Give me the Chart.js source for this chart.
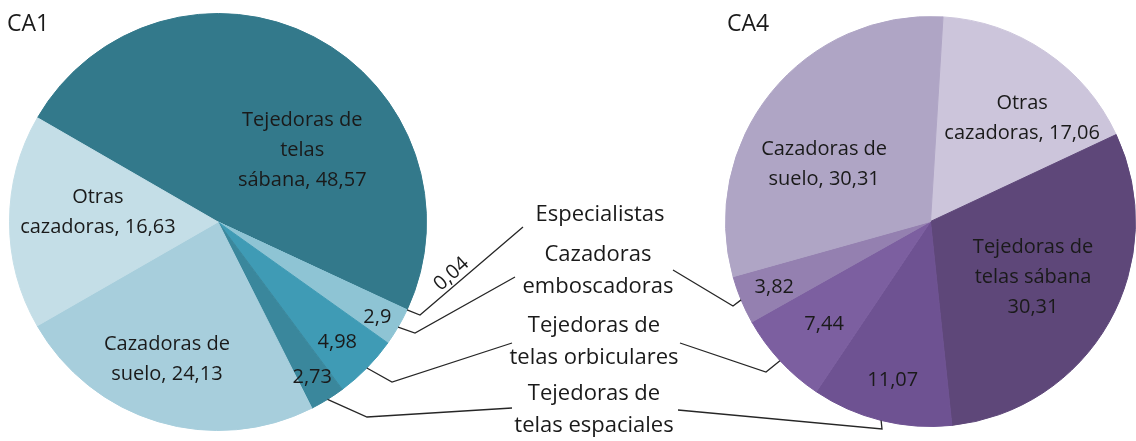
<!DOCTYPE html>
<html>
<head>
<meta charset="utf-8">
<script src="https://cdn.jsdelivr.net/npm/chart.js@4.4.1/dist/chart.umd.min.js"></script>
<style>
  html, body { margin: 0; padding: 0; background: #fff; }
  #wrap { position: relative; width: 1136px; height: 441px; }
  canvas { position: absolute; left: 0; top: 0; }
</style>
</head>
<body>
<div id="wrap">
  <canvas id="ca1" width="1136" height="441"></canvas>
  <canvas id="ca4" width="1136" height="441"></canvas>
</div>
<script>
// DATOS - CA1
var categoriasCA1 = ['Tejedoras de telas sábana', 'Especialistas', 'Cazadoras emboscadoras',
  'Tejedoras de telas orbiculares', 'Tejedoras de telas espaciales', 'Cazadoras de suelo', 'Otras cazadoras'];
var valoresCA1 = [48.57, 0.04, 2.9, 4.98, 2.73, 24.13, 16.63];
var textosCA1 = [['Tejedoras de', 'telas', 'sábana, {v}'], ['{v}'], ['{v}'], ['{v}'], ['{v}'],
  ['Cazadoras de', 'suelo, {v}'], ['Otras', 'cazadoras, {v}']];

// DATOS - CA4
var categoriasCA4 = ['Otras cazadoras', 'Tejedoras de telas sábana', 'Tejedoras de telas espaciales',
  'Tejedoras de telas orbiculares', 'Cazadoras emboscadoras', 'Cazadoras de suelo'];
var valoresCA4 = [17.06, 30.31, 11.07, 7.44, 3.82, 30.31];
var textosCA4 = [['Otras', 'cazadoras, {v}'], ['Tejedoras de', 'telas sábana', '{v}'], ['{v}'], ['{v}'], ['{v}'],
  ['Cazadoras de', 'suelo, {v}']];

// rótulos del centro (nombres de los grupos pequeños)
var rotulosCentro = [['Especialistas'], ['Cazadoras', 'emboscadoras'], ['Tejedoras de', 'telas orbiculares'],
  ['Tejedoras de', 'telas espaciales']];

// colores
var coresCA1 = ['#33798B', '#8EC4D4', '#8EC4D4', '#3F9BB5', '#3A879C', '#A7CEDC', '#C4DEE7'];
var coresCA4 = ['#CCC5DB', '#5E4779', '#6E5292', '#7C5FA0', '#9480B0', '#AFA5C5'];

var FONTE = '"Open Sans", "Noto Sans", sans-serif';

function fmt(v) {
  return String(v).replace('.', ',');
}

// posición de cada rótulo: desplazamiento desde el centro, en fracción del radio
var posCA1 = [
  { dx: 0.404, dy: -0.346 },
  { dx: 1.12, dy: 0.250, rot: -42 },
  { dx: 0.764, dy: 0.457 },
  { dx: 0.572, dy: 0.577 },
  { dx: 0.452, dy: 0.745 },
  { dx: -0.245, dy: 0.659 },
  { dx: -0.576, dy: -0.048 }
];
var posCA4 = [
  { dx: 0.447, dy: -0.505 },
  { dx: 0.500, dy: 0.272 },
  { dx: -0.184, dy: 0.777 },
  { dx: -0.519, dy: 0.500 },
  { dx: -0.762, dy: 0.320 },
  { dx: -0.519, dy: -0.277 }
];

// líneas guía: índice de la porción, codo y final
var guiasCA1 = [
  { i: 1, codo: [420, 315], fim: [523, 227] },
  { i: 2, codo: [415, 333], fim: [515, 277] },
  { i: 3, codo: [392, 382], fim: [512, 343] },
  { i: 4, codo: [367, 417], fim: [512, 408] }
];
var guiasCA4 = [
  { i: 4, codo: [733, 306], fim: [673, 270] },
  { i: 3, codo: [766, 372], fim: [680, 343] },
  { i: 2, codo: [882, 429], fim: [678, 410] }
];

var posCentro = [
  { x: 600, y: 215 },
  { x: 598, y: 271 },
  { x: 594, y: 342 },
  { x: 594, y: 410 }
];

function escreverLinhas(ctx, linhas, x, y, alto) {
  var y0 = y - (linhas.length - 1) * alto / 2;
  for (var k = 0; k < linhas.length; k++) {
    ctx.fillText(linhas[k], x, y0 + k * alto);
  }
}

const rotulosPlugin = {
  id: 'rotulos',
  afterDraw(chart, args, opts) {
    var ctx = chart.ctx;
    var meta = chart.getDatasetMeta(0);
    var valores = chart.data.datasets[0].data;
    var cx = meta.data[0].x, cy = meta.data[0].y, r = meta.data[0].outerRadius;

    ctx.save();
    ctx.fillStyle = '#1a1a1a';
    ctx.textBaseline = 'middle';

    // título
    ctx.textAlign = 'left';
    ctx.font = '23px ' + FONTE;
    ctx.fillText(opts.titulo, opts.tx, opts.ty);
    ctx.textAlign = 'center';

    // rótulos de las porciones
    ctx.font = '20px ' + FONTE;
    for (var i = 0; i < valores.length; i++) {
      var p = opts.pos[i];
      var linhas = opts.textos[i].map(function (t) { return t.replace('{v}', fmt(valores[i])); });
      var x = cx + p.dx * r, y = cy + p.dy * r;
      if (p.rot) {
        ctx.save();
        ctx.translate(x, y);
        ctx.rotate(p.rot * Math.PI / 180);
        escreverLinhas(ctx, linhas, 0, 0, 30);
        ctx.restore();
      } else {
        escreverLinhas(ctx, linhas, x, y, 30);
      }
    }

    // líneas guía
    ctx.strokeStyle = '#262626';
    ctx.lineWidth = 1.3;
    opts.guias.forEach(function (g) {
      var arc = meta.data[g.i];
      var a = (arc.startAngle + arc.endAngle) / 2;
      ctx.beginPath();
      ctx.moveTo(cx + Math.cos(a) * r, cy + Math.sin(a) * r);
      ctx.lineTo(g.codo[0], g.codo[1]);
      ctx.lineTo(g.fim[0], g.fim[1]);
      ctx.stroke();
    });

    // nombres del centro
    if (opts.centro) {
      ctx.font = '22px ' + FONTE;
      rotulosCentro.forEach(function (linhas, k) {
        escreverLinhas(ctx, linhas, posCentro[k].x, posCentro[k].y, linhas.length > 1 ? 32 : 0);
      });
    }
    ctx.restore();
  }
};

function opcoes(padding, rotacao, extra) {
  return {
    responsive: false,
    animation: false,
    events: [],
    rotation: rotacao,
    layout: { padding: padding },
    plugins: {
      legend: { display: false },
      tooltip: { enabled: false },
      rotulos: extra
    }
  };
}

new Chart(document.getElementById('ca1'), {
  type: 'pie',
  data: {
    labels: categoriasCA1,
    datasets: [{ data: valoresCA1, backgroundColor: coresCA1, borderColor: coresCA1, borderWidth: 1 }]
  },
  options: opcoes({ left: 9, right: 709, top: 13, bottom: 10 }, 300,
    { titulo: 'CA1', tx: 7, ty: 24, pos: posCA1, textos: textosCA1, guias: guiasCA1, centro: true }),
  plugins: [rotulosPlugin]
});

new Chart(document.getElementById('ca4'), {
  type: 'pie',
  data: {
    labels: categoriasCA4,
    datasets: [{ data: valoresCA4, backgroundColor: coresCA4, borderColor: coresCA4, borderWidth: 1 }]
  },
  options: opcoes({ left: 725, right: 0, top: 15, bottom: 13 }, 3.5,
    { titulo: 'CA4', tx: 727, ty: 24, pos: posCA4, textos: textosCA4, guias: guiasCA4, centro: false }),
  plugins: [rotulosPlugin]
});
</script>
</body>
</html>
